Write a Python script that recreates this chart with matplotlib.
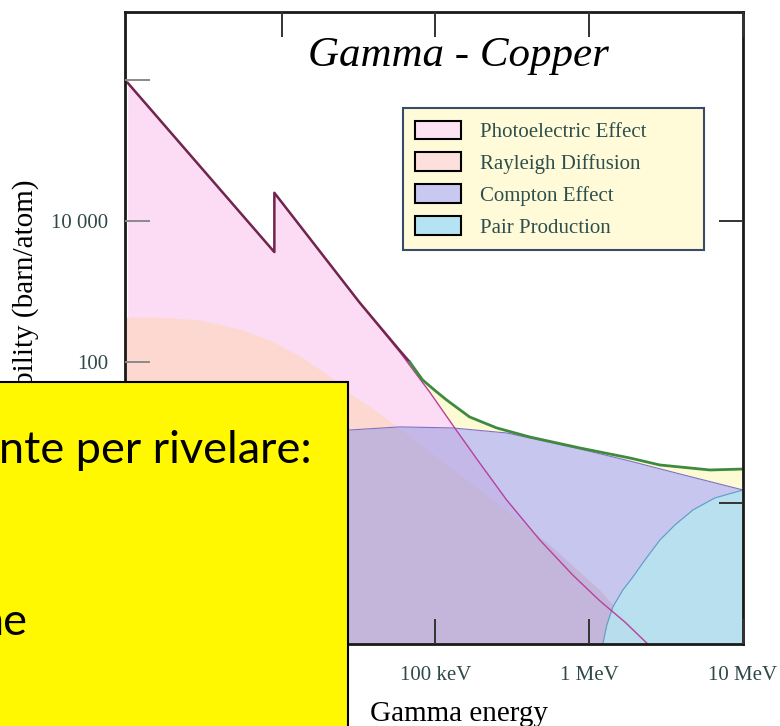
import matplotlib.pyplot as plt
from matplotlib.patches import Patch, Rectangle
from matplotlib.ticker import NullLocator

# energia in keV, sezione d'urto in barn/atom
photo_E = [1.0, 8.98, 8.98, 32.2, 58.6, 91.8, 133.6, 194, 291, 477, 782, 1172, 1706, 2404, 3000]
photo_s = [9.0e5, 3600, 25000, 690, 139, 37.5, 11.6, 3.7, 1.1, 0.30, 0.095, 0.041, 0.0205, 0.0100, 0.0063]

rayl_E = [0.96, 1.61, 2.93, 5.33, 8.36, 13.1, 20.5, 26.9, 40.3, 58.6, 124, 262, 555, 1172, 2404, 3000]
rayl_s = [434, 434, 394, 294, 205, 122, 63.3, 37.5, 20.8, 11.6, 3.24, 0.94, 0.254, 0.058, 0.0100, 0.0058]

compton_E = [0.96, 2.93, 10, 26.9, 58.6, 129.6, 291, 411, 869, 1837, 3887, 10000]
compton_s = [1.0, 2.9, 7.8, 10.8, 12.0, 11.6, 9.84, 8.36, 5.84, 3.94, 2.58, 1.53]

pair_E = [1205, 1226, 1302, 1424, 1654, 1922, 2300, 2880, 3606, 4722, 6561, 10000]
pair_s = [0.005, 0.010, 0.0186, 0.0335, 0.0583, 0.0891, 0.155, 0.298, 0.488, 0.796, 1.18, 1.53]

total_E = [1.0, 8.98, 8.98, 32.2, 58.6, 68.1, 82.6, 100, 118.4, 167, 250.6, 411, 869, 1837, 2880, 6095, 10000]
total_s = [9.1e5, 3620, 25100, 695, 146, 100, 55.6, 39.0, 28.9, 16.6, 11.6, 8.63, 6.03, 4.35, 3.46, 2.94, 3.03]

labels = ['Photoelectric Effect', 'Rayleigh Diffusion', 'Compton Effect', 'Pair Production']
legend_colors = ['#fde2f4', '#fde0dc', '#c8c8f0', '#b4e4f4']

plt.rcParams['font.family'] = ['Liberation Serif', 'DejaVu Serif']

fig = plt.figure(figsize=(7.8, 7.26), dpi=100)
ax = fig.add_axes([125/780, 82/726, 618/780, 632/726])
ax.set_xscale('log')
ax.set_yscale('log')

base = 1e-4
# zona gialla = totale
ax.fill_between(total_E, total_s, base, color='#fdfbd4', lw=0, zorder=1)
for E, s in [(photo_E, photo_s), (rayl_E, rayl_s), (compton_E, compton_s), (pair_E, pair_s)]:
    ax.fill_between(E, s, base, color='white', lw=0, zorder=2)
ax.fill_between(photo_E, photo_s, base, color='#fcdcf4', lw=0, zorder=3)
ax.fill_between(rayl_E, rayl_s, base, color='#fcd8d0', lw=0, zorder=4)
ax.fill_between(compton_E, compton_s, base, color='#a0a0e3', alpha=0.6, lw=0, zorder=5)
ax.fill_between(pair_E, pair_s, base, color='#b6e5f0', alpha=0.85, lw=0, zorder=6)

ax.plot(compton_E, compton_s, color='#8070c4', lw=0.8, zorder=7)
ax.plot(pair_E, pair_s, color='#5a9ec8', lw=0.8, zorder=7)
ax.plot(photo_E, photo_s, color='#b8409e', lw=1.0, zorder=8)
ax.plot(total_E[:6], total_s[:6], color='#72264e', lw=1.8, zorder=9)
ax.plot(total_E[5:], total_s[5:], color='#3f8a3f', lw=2.0, zorder=9)

ax.set_xlim(0.96, 1e4)
ax.set_ylim(1e-2, 9.2e6)

for sp in ax.spines.values():
    sp.set_linewidth(2)
    sp.set_color('#1a1a1a')
    sp.set_zorder(12)

ax.set_xticks([10, 100, 1000, 10000], ['', '100 keV', '1 MeV', '10 MeV'])
ax.set_yticks([1e-2, 1, 1e2, 1e4, 1e6], ['', '', '100', '10 000', ''])
ax.xaxis.set_minor_locator(NullLocator())
ax.yaxis.set_minor_locator(NullLocator())
ax.tick_params(axis='both', direction='in', length=18, width=1.4, labelsize=15,
               labelcolor='#2f4848')
ax.tick_params(axis='x', top=True, color='#333333', pad=16)
ax.tick_params(axis='y', color='#8a8a8a', pad=12)
ax.xaxis.set_zorder(13)
ax.yaxis.set_zorder(13)

ax2 = ax.twinx()
ax2.set_yscale('log')
ax2.set_ylim(ax.get_ylim())
ax2.set_yticks([1, 1e4], ['', ''])
ax2.yaxis.set_minor_locator(NullLocator())
ax2.tick_params(axis='y', direction='in', length=17, width=1.4, color='#333333')
for sp in ax2.spines.values():
    sp.set_visible(False)

handles = [Patch(facecolor=c, edgecolor='black', lw=1.5, label=l)
           for c, l in zip(legend_colors, labels)]
leg = ax.legend(handles=handles, loc='upper left', bbox_to_anchor=(0.4498, 0.0, 0.487, 0.848),
                mode='expand', borderaxespad=0, fontsize=15, handlelength=2.2,
                handleheight=1.0, handletextpad=0.9, labelspacing=0.5, borderpad=0.6,
                fancybox=False, facecolor='#fffbd8', edgecolor='#3b4a6b', framealpha=1,
                labelcolor='#2f4f4f')
leg.get_frame().set_linewidth(1.5)
leg.set_zorder(15)

ax.text(0.54, 0.931, 'Gamma - Copper', transform=ax.transAxes, ha='center', va='center',
        fontsize=31, style='italic', zorder=15)

fig.text(459.5/780, 5/726, 'Gamma energy', ha='center', va='baseline', fontsize=21)
fig.text(26/780, 1 - 180/726, 'Probability (barn/atom)', rotation=90, ha='center', va='top',
         fontsize=21)

# riquadro giallo sovrapposto
box = Rectangle((-8/780, -0.01), 356/780, (726 - 382)/726 + 0.01, transform=fig.transFigure,
                facecolor='#fff800', edgecolor='black', lw=1.5, zorder=30)
fig.add_artist(box)
fig.text(312/780, (726 - 463)/726, 'nte per rivelare:', ha='right', va='baseline',
         fontsize=32.5, family=['Lato', 'DejaVu Sans'], zorder=31)
fig.text(28/780, (726 - 635)/726, 'ne', ha='right', va='baseline',
         fontsize=32.5, family=['Lato', 'DejaVu Sans'], zorder=31)

fig.savefig('out.png', dpi=100)
